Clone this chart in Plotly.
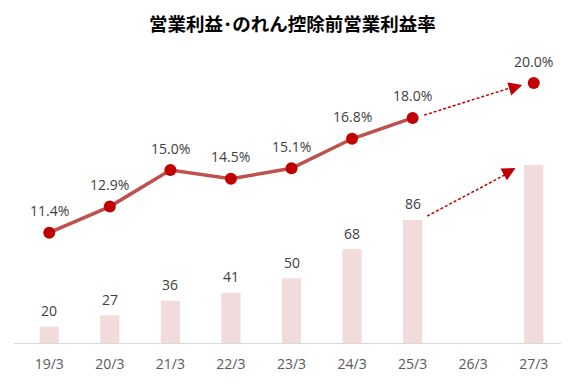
import plotly.graph_objects as go

categories = ["19/3", "20/3", "21/3", "22/3", "23/3", "24/3", "25/3", "26/3", "27/3"]
profit = [20, 27, 36, 41, 50, 68, 86, None, 120]
profit_labels = ["20", "27", "36", "41", "50", "68", "86", "", ""]
margin = [11.4, 12.9, 15.0, 14.5, 15.1, 16.8, 18.0, None, 20.0]
title = "営業利益･のれん控除前営業利益率"

fig = go.Figure()
fig.add_trace(go.Bar(x=categories, y=profit, marker=dict(color="#F2DCDB", line=dict(width=0)),
                     hoverinfo="skip", showlegend=False))
fig.add_trace(go.Scatter(x=categories, y=margin, yaxis="y2", mode="lines+markers",
                         line=dict(color="#C0504D", width=3.5),
                         marker=dict(color="#C00000", size=12),
                         connectgaps=False, showlegend=False))

label_font = dict(family="Open Sans, sans-serif", size=14, color="#404040")
anns = []
for c, v, t in zip(categories, profit, profit_labels):
    if v is not None and t:
        anns.append(dict(x=c, y=v, xref="x", yref="y", text=t, showarrow=False,
                         yshift=16, font=label_font))
for c, v in zip(categories, margin):
    if v is not None:
        anns.append(dict(x=c, y=v, xref="x", yref="y2", text=f"{v:.1f}%", showarrow=False,
                         yshift=22, font=label_font))

# dashed forecast arrows (line as dashed shape, head as annotation)
arrow_color = "#C00000"
shapes = [
    dict(type="line", xref="x", yref="y2", x0=6.19, y0=18.16, x1=7.70, y1=19.82,
         line=dict(color=arrow_color, width=1.5, dash="3px,2px")),
    dict(type="line", xref="x", yref="y", x0=6.24, y0=88.4, x1=7.58, y1=115.0,
         line=dict(color=arrow_color, width=1.5, dash="3px,2px")),
]
anns.append(dict(x=7.81, y=19.89, xref="x", yref="y2", ax=-9.6, ay=2.9,
                 text="", showarrow=True, arrowhead=2, arrowsize=1.8, arrowwidth=1.5,
                 arrowcolor=arrow_color, standoff=0))
anns.append(dict(x=7.70, y=118.1, xref="x", yref="y", ax=-8.8, ay=4.7,
                 text="", showarrow=True, arrowhead=2, arrowsize=1.8, arrowwidth=1.5,
                 arrowcolor=arrow_color, standoff=0))

fig.update_layout(
    width=569, height=384,
    margin=dict(l=6, r=8, t=37, b=49),
    paper_bgcolor="white", plot_bgcolor="white",
    title=dict(text=title, x=0.5, xanchor="center", y=0.9557, yanchor="middle",
               font=dict(family="Noto Sans CJK JP", size=18.5, color="#000000", weight="bold")),
    bargap=0.684,
    xaxis=dict(type="category", showgrid=False, showline=True, linecolor="#D9D9D9", linewidth=1,
               ticks="outside", ticklen=8, tickcolor="rgba(0,0,0,0)",
               tickfont=dict(family="Open Sans, sans-serif", size=14, color="#595959")),
    yaxis=dict(range=[9.9, 194.2], visible=False, showgrid=False, zeroline=False),
    yaxis2=dict(range=[5.06, 22.19], overlaying="y", visible=False, showgrid=False, zeroline=False),
    annotations=anns,
    shapes=shapes,
)
fig.write_html("out.html")
